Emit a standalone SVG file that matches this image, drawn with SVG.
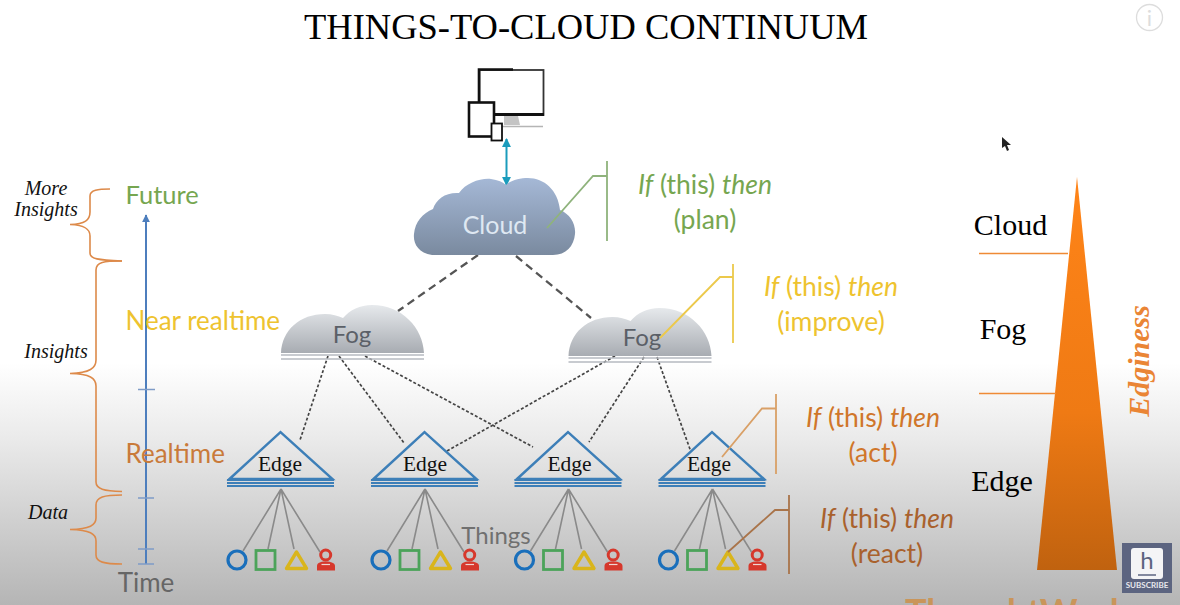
<svg xmlns="http://www.w3.org/2000/svg" width="1180" height="605" viewBox="0 0 1180 605">
<style>
.ser{font-family:"Liberation Serif","Times New Roman",serif}
.san{font-family:Lato,"Open Sans",sans-serif}
.lab{font-size:26.500px}
.mid{text-anchor:middle}
.ins{font-size:20px;font-style:italic;fill:#111}
.big{font-size:30px;fill:#000}
.edge{font-size:21.500px;fill:#111}
.brace{fill:none;stroke:#dd8a4a;stroke-width:1.6}
.tick{stroke:#7f9cc7;stroke-width:1.5}
.dot{fill:none;stroke:#444;stroke-width:1.7;stroke-dasharray:3 2}
.dash{fill:none;stroke:#555;stroke-width:2.3;stroke-dasharray:8 5}
.tl{stroke:#8a8a8a;stroke-width:1.6;fill:none}
.call{fill:none;stroke-width:1.8}
</style>
<defs>
<linearGradient id="bg" x1="0" y1="0" x2="0" y2="1"><stop offset="0" stop-color="#fff"/><stop offset=".6" stop-color="#fff"/><stop offset=".72" stop-color="#ebebeb"/><stop offset="1" stop-color="#b5b5b5"/></linearGradient>
<linearGradient id="cl" x1="0" y1="0" x2="0" y2="1"><stop offset="0" stop-color="#a5b8d6"/><stop offset="1" stop-color="#7a8a9f"/></linearGradient>
<linearGradient id="fg" x1="0" y1="0" x2="0" y2="1"><stop offset="0" stop-color="#e6e9ec"/><stop offset="1" stop-color="#a8acb2"/></linearGradient>
<linearGradient id="tri" x1="0" y1="0" x2="0" y2="1"><stop offset="0" stop-color="#ff8418"/><stop offset=".6" stop-color="#ef7a14"/><stop offset="1" stop-color="#c0620f"/></linearGradient>
<marker id="ah" viewBox="0 0 10 10" refX="9" refY="5" markerWidth="4.600" markerHeight="4.600" orient="auto-start-reverse"><path d="M0 0L10 5L0 10z" fill="#1b9cbc"/></marker>
<marker id="tm" viewBox="0 0 10 10" refX="9" refY="5" markerWidth="4" markerHeight="4" orient="auto"><path d="M0 0L10 5L0 10z" fill="#4d7ebd"/></marker>
<g id="tpl-fog">
<path d="M281 353C282 330 300 314 325 314C332 314 338 316 343 318C350 310 360 305 372 305C402 305 423 328 424 353Z" fill="url(#fg)"/>
<path d="M281 355H424M281 359H424" stroke="#b7bbc1" stroke-width="1.600" fill="none"/>
</g>
<g id="tpl-edge">
<path d="M229.500 479L280.500 432L332.500 479Z" fill="none" stroke="#3d7fb8" stroke-width="2.400"/>
<path d="M227 480H334M227 483H334M227 486H334" stroke="#3d7fb8" stroke-width="1.800" fill="none"/>
<path class="tl" d="M281 489L243 551M281 489L268 549M281 489L294 549M281 489L320 552"/>
<circle cx="237" cy="560" r="9" fill="none" stroke="#1a6fbb" stroke-width="3.200"/>
<rect x="256" y="550.500" width="19" height="19" fill="none" stroke="#4ca35a" stroke-width="2.800"/>
<path d="M296.500 552L306.500 568.500H286.500Z" fill="none" stroke="#d9b51c" stroke-width="3.400" stroke-linejoin="round"/>
<circle cx="325.700" cy="555" r="5" fill="none" stroke="#d6382c" stroke-width="3"/>
<path d="M317 570.500V566C317 563 320 561.500 325.700 561.500C331 561.500 335 563 335 566V570.500Z" fill="#d6382c"/>
<path d="M321.500 564.500H330" stroke="#f0d4d0" stroke-width="1.200"/>
</g>
</defs>
<rect id="background" width="1180" height="605" fill="url(#bg)"/>
<text class="ser mid" x="586" y="39" font-size="36.500" fill="#000">THINGS-TO-CLOUD CONTINUUM</text>

<g id="devices">
<rect x="479.500" y="70" width="64" height="45" fill="#fff" stroke="#333" stroke-width="1.800"/>
<path d="M479 115V69.500H513" stroke="#111" stroke-width="2.600" fill="none"/>
<path d="M480 114.500H544" stroke="#111" stroke-width="3"/>
<path d="M504 116H518L520 125H504Z" fill="#c4c4c4"/>
<path d="M502 126.500H543" stroke="#b5b5b5" stroke-width="1.500"/>
<rect x="469" y="102.500" width="25" height="34" fill="#fff" stroke="#111" stroke-width="2.600"/>
<rect x="491.500" y="123.500" width="10.500" height="17" fill="#fff" stroke="#111" stroke-width="1.800"/>
</g>

<g id="connectors">
<path d="M506.500 139V185" stroke="#1b9cbc" stroke-width="2" fill="none" marker-start="url(#ah)" marker-end="url(#ah)"/>
<path class="dash" d="M478 255L398 311M516 256L591 318"/>
<path class="dot" d="M328 356L300 440M339 356L404 443M365 356L533 447M615 356L447 451M644 357L589 442M657 357L691 452"/>
</g>

<g id="cloud">
<path d="M432 255C418 253 413 243 414 234C415 222 423 213 433 209C436 199 446 192 459 193C466 183 480 178 491 179C498 180 503 182 506 185C511 180 520 178 528 178C544 178 558 190 560 210C570 214 576 224 575 234C574 246 566 255 553 255Z" fill="url(#cl)"/>
<text class="san mid" x="495" y="234" font-size="25" fill="#dfe8f2">Cloud</text>
</g>

<g id="fog-left"><use href="#tpl-fog"/><text class="san mid" x="352" y="343" font-size="24" fill="#5b6068">Fog</text></g>
<g id="fog-right"><use href="#tpl-fog" x="287.500" y="3"/><text class="san mid" x="642" y="346" font-size="24" fill="#5b6068">Fog</text></g>

<g id="edge-1"><use href="#tpl-edge"/><text class="ser edge mid" x="280" y="471">Edge</text></g>
<g id="edge-2"><use href="#tpl-edge" x="144"/><text class="ser edge mid" x="425" y="471">Edge</text></g>
<g id="edge-3"><use href="#tpl-edge" x="287.500"/><text class="ser edge mid" x="569.500" y="471">Edge</text></g>
<g id="edge-4"><use href="#tpl-edge" x="431.500"/><text class="ser edge mid" x="709" y="471">Edge</text></g>
<text class="san mid" x="496" y="544" font-size="24" fill="#707070">Things</text>

<g id="callouts">
<path class="call" stroke="#8fb37c" d="M547 228L593 176H607M607 161V241"/>
<path class="call" stroke="#ecc94b" d="M660 338L720 277H733M733 264V343"/>
<path class="call" stroke="#d9a067" d="M722 457L762 408.500H776M776 394V474"/>
<path class="call" stroke="#a9744a" d="M728 552L775 510H789M789 495V574"/>
<g class="san lab mid" fill="#76a650"><text x="705" y="193.500"><tspan font-style="italic">If</tspan> (this) <tspan font-style="italic">then</tspan></text><text x="705" y="228.500">(plan)</text></g>
<g class="san lab mid" fill="#eec32f"><text x="831" y="295.500"><tspan font-style="italic">If</tspan> (this) <tspan font-style="italic">then</tspan></text><text x="831" y="330.500">(improve)</text></g>
<g class="san lab mid" fill="#d0762a"><text x="873" y="426.500"><tspan font-style="italic">If</tspan> (this) <tspan font-style="italic">then</tspan></text><text x="873" y="461.500">(act)</text></g>
<g class="san lab mid" fill="#a9612d"><text x="887" y="527.500"><tspan font-style="italic">If</tspan> (this) <tspan font-style="italic">then</tspan></text><text x="887" y="562.500">(react)</text></g>
</g>

<g id="timeline">
<path class="brace" d="M110 189C98 189 90 190 90 196V212C90 220 85 224 70 224.500C85 225 90 229 90 236V253C90 259 98 260 122 261"/>
<path class="brace" d="M122 261C104 261 96 262 96 270V360C96 368 90 373 70 373.500C90 374 96 378 96 386V482C96 489 104 491 122 491.500"/>
<path class="brace" d="M122 495C104 495 96 497 96 505V518C96 525 90 529 70 529.500C90 530 96 534 96 541V555C96 562 104 564 122 564"/>
<path d="M146 564V215" stroke="#4d7ebd" stroke-width="2" fill="none" marker-end="url(#tm)"/>
<path class="tick" d="M138 389.500H155M138 498H154M138 549H154M138 564H154"/>
<text class="san" x="125.500" y="203.500" font-size="25.500" fill="#76a650">Future</text>
<text class="san" x="125.500" y="329.500" font-size="26" fill="#eec32f">Near realtime</text>
<text class="san" x="125.500" y="462.500" font-size="26" fill="#c97a3a">Realtime</text>
<text class="san mid" x="146" y="592" font-size="26" fill="#666">Time</text>
<text class="ser ins mid" x="46" y="195">More</text>
<text class="ser ins mid" x="46" y="216">Insights</text>
<text class="ser ins mid" x="56" y="358">Insights</text>
<text class="ser ins mid" x="48" y="519">Data</text>
</g>

<g id="edginess">
<path d="M1077 177L1117 570H1037Z" fill="url(#tri)"/>
<path d="M979 253.500H1068M979 393.500H1056" stroke="#ef8a35" stroke-width="1.600" fill="none"/>
<text class="ser big mid" x="1010.500" y="235">Cloud</text>
<text class="ser big mid" x="1003" y="339">Fog</text>
<text class="ser big mid" x="1002" y="491">Edge</text>
<text class="ser mid" transform="translate(1149 361) rotate(-90)" font-size="30" font-weight="bold" font-style="italic" fill="#ea8535">Edginess</text>
</g>

<g id="overlays">
<circle cx="1149.500" cy="17.500" r="13" fill="none" stroke="#ddd" stroke-width="1.300"/>
<text class="san mid" x="1149.500" y="26" font-size="22" fill="#ddd">i</text>
<path d="M1002 137V148L1005 146L1007 151L1009 150L1007 145L1011 145Z" fill="#222"/>
<text class="san" x="905" y="625" font-size="36" font-weight="bold" fill="#c9955a" textLength="240" lengthAdjust="spacing">ThoughtWorks</text>
<rect x="1122" y="543" width="50" height="50" fill="#5c6480"/>
<rect x="1131" y="548" width="32" height="31" rx="3" fill="#f4f4f6"/>
<text class="san mid" x="1147" y="569" font-size="24" fill="#5c6480">h</text>
<path d="M1138 575H1156" stroke="#5c6480" stroke-width="1.500"/>
<text class="san mid" x="1147" y="587.500" font-size="8" font-weight="bold" fill="#e8e8ee">SUBSCRIBE</text>
</g>
</svg>
